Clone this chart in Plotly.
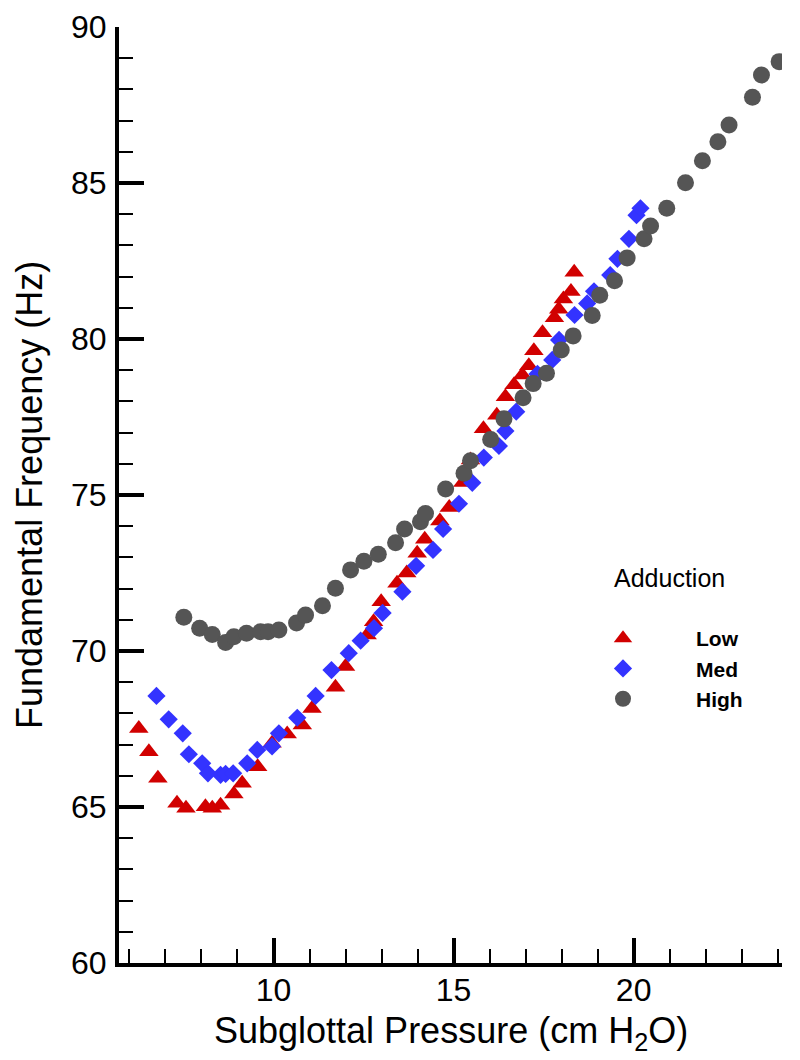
import plotly.graph_objects as go

# Low adduction (red triangles)
low_x = [6.26, 6.54, 6.79, 7.32, 7.57, 8.11, 8.30, 8.53, 8.90, 9.13, 9.56, 9.96, 10.38, 10.80,
         11.07, 11.72, 12.00, 12.60, 12.78, 12.99, 13.43, 13.70, 13.99, 14.20, 14.62, 14.88,
         15.26, 15.47, 15.83, 16.20, 16.44, 16.68, 16.91, 17.09, 17.23, 17.47, 17.80, 17.92,
         18.05, 18.26, 18.35]
low_y = [67.52, 66.77, 65.92, 65.12, 64.96, 65.01, 64.96, 65.06, 65.42, 65.76, 66.29, 67.04, 67.34, 67.63,
         68.16, 68.84, 69.50, 70.51, 70.94, 71.58, 72.17, 72.50, 73.13, 73.58, 74.17, 74.60,
         75.40, 76.12, 77.12, 77.56, 78.15, 78.53, 78.85, 79.14, 79.62, 80.20, 80.68, 80.95,
         81.28, 81.52, 82.14]

# Medium adduction (blue diamonds)
med_x = [6.75, 7.09, 7.48, 7.65, 8.02, 8.18, 8.53, 8.67, 8.88, 9.27, 9.55, 9.96, 10.15, 10.66,
         11.17, 11.61, 12.09, 12.42, 12.79, 13.03, 13.58, 13.96, 14.43, 14.71, 15.15, 15.52,
         15.84, 16.26, 16.44, 16.74, 17.33, 17.74, 17.93, 18.36, 18.71, 18.90, 19.35, 19.55,
         19.87, 20.08, 20.19]
med_y = [68.56, 67.81, 67.36, 66.69, 66.40, 66.08, 66.03, 66.06, 66.08, 66.40, 66.83, 66.94, 67.36, 67.86,
         68.56, 69.39, 69.93, 70.33, 70.73, 71.22, 71.90, 72.73, 73.24, 73.91, 74.72, 75.39,
         76.20, 76.57, 77.05, 77.67, 78.88, 79.33, 79.97, 80.77, 81.14, 81.53, 82.05, 82.57,
         83.21, 83.97, 84.19]

# High adduction (gray circles)
high_x = [7.51, 7.95, 8.30, 8.67, 8.90, 9.25, 9.64, 9.85, 10.15, 10.64, 10.89, 11.36, 11.72, 12.14,
          12.51, 12.91, 13.39, 13.64, 14.08, 14.22, 14.78, 15.29, 15.47, 16.03, 16.40, 16.93,
          17.21, 17.58, 17.99, 18.32, 18.85, 19.06, 19.47, 19.82, 20.29, 20.47, 20.92, 21.44,
          21.91, 22.34, 22.65, 23.30, 23.55, 24.04]
high_y = [71.08, 70.73, 70.53, 70.27, 70.46, 70.57, 70.62, 70.62, 70.67, 70.90, 71.15, 71.45, 72.01, 72.60,
          72.88, 73.10, 73.47, 73.91, 74.14, 74.41, 75.19, 75.70, 76.10, 76.78, 77.44, 78.12,
          78.57, 78.90, 79.65, 80.10, 80.75, 81.40, 81.87, 82.60, 83.21, 83.62, 84.19, 85.01,
          85.71, 86.32, 86.86, 87.75, 88.46, 88.89]

x_ticks = [10, 15, 20]
y_ticks = [60, 65, 70, 75, 80, 85, 90]

FONT = "Liberation Sans, Arial, sans-serif"

W, H = 800, 1060
L, R, T, B = 119, 18, 27, 97
PW, PH = W - L - R, H - T - B


def px_to_paper_x(px):
    return (px - L) / PW


def px_to_paper_y(py):
    return (H - B - py) / PH


fig = go.Figure()
fig.add_trace(go.Scatter(x=low_x, y=low_y, mode="markers", name="<b>Low</b>",
                         marker=dict(symbol="triangle-up", size=17, color="#D10000")))
fig.add_trace(go.Scatter(x=med_x, y=med_y, mode="markers", name="<b>Med</b>",
                         marker=dict(symbol="diamond", size=14, color="#3333FF")))
fig.add_trace(go.Scatter(x=high_x, y=high_y, mode="markers", name="<b>High</b>",
                         marker=dict(symbol="circle", size=17, color="#555555")))

fig.update_layout(
    width=W, height=H,
    margin=dict(l=L, r=R, t=T, b=B, autoexpand=False),
    paper_bgcolor="white", plot_bgcolor="white",
    font=dict(family=FONT, color="black"),
    showlegend=True,
    legend=dict(
        x=px_to_paper_x(550), y=px_to_paper_y(618), xanchor="left", yanchor="top",
        font=dict(size=21),
        itemwidth=136,
        tracegroupgap=0,
        bgcolor="rgba(0,0,0,0)",
    ),
    annotations=[
        dict(text="Adduction", x=px_to_paper_x(612), y=px_to_paper_y(578),
             xref="paper", yref="paper", xanchor="left", yanchor="middle",
             showarrow=False, font=dict(size=25)),
        dict(text="Subglottal Pressure (cm H<sub>2</sub>O)", x=px_to_paper_x(451), y=px_to_paper_y(1033),
             xref="paper", yref="paper", xanchor="center", yanchor="middle",
             showarrow=False, font=dict(size=36)),
        dict(text="Fundamental Frequency (Hz)", x=px_to_paper_x(29), y=px_to_paper_y(495),
             xref="paper", yref="paper", xanchor="center", yanchor="middle", textangle=-90,
             showarrow=False, font=dict(size=36)),
    ],
)

fig.update_xaxes(
    range=[5.71, 24.12], automargin=False,
    tickmode="array", tickvals=x_ticks,
    ticks="inside", ticklen=25, tickwidth=4, tickcolor="black",
    showline=True, linewidth=4, linecolor="black",
    showgrid=False, zeroline=False,
    tickfont=dict(size=32),
    ticklabelstandoff=-4,
    minor=dict(tickmode="linear", tick0=0, dtick=1, ticks="inside", ticklen=14,
               tickwidth=1.5, tickcolor="black", showgrid=False),
)
fig.update_yaxes(
    range=[60, 90], automargin=False,
    tickmode="array", tickvals=y_ticks,
    ticks="inside", ticklen=25, tickwidth=4, tickcolor="black",
    showline=True, linewidth=4, linecolor="black",
    showgrid=False, zeroline=False,
    tickfont=dict(size=32),
    ticklabelstandoff=2,
    minor=dict(tickmode="linear", tick0=0, dtick=1, ticks="inside", ticklen=14,
               tickwidth=1.5, tickcolor="black", showgrid=False),
)

fig.write_html("out.html", config={"displayModeBar": False},
               post_script="document.body.style.margin='0px';")
